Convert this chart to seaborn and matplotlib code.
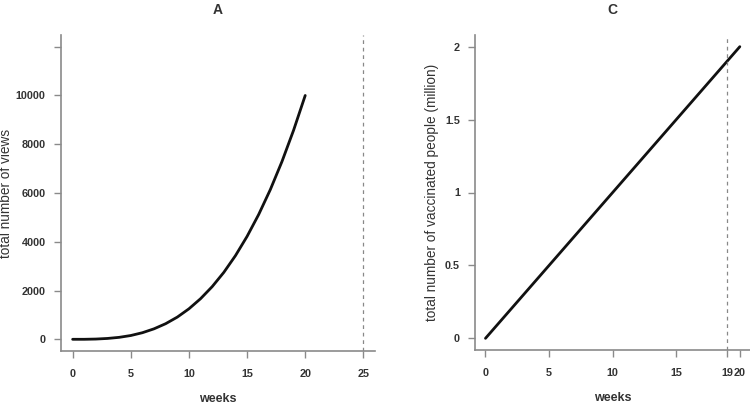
import matplotlib
matplotlib.use("Agg")
import matplotlib.pyplot as plt
import seaborn as sns
import pandas as pd

# ---- data ----
weeks_a = [0, 1, 2, 3, 4, 5, 6, 7, 8, 9, 10, 11, 12, 13, 14, 15, 16, 17, 18, 19, 20]
views_a = [0, 0, 10, 35, 80, 155, 270, 430, 640, 910, 1250, 1665, 2160, 2745,
           3430, 4220, 5120, 6140, 7290, 8575, 10000]
xticks_a = [0, 5, 10, 15, 20, 25]
yticks_a = [0, 2000, 4000, 6000, 8000, 10000, 12000]
yticklabels_a = ["0", "2000", "4000", "6000", "8000", "10000", ""]
vline_a = 25

weeks_c = [0, 5, 10, 15, 20]
vacc_c = [0, 0.5, 1.0, 1.5, 2.0]
xticks_c = [0, 5, 10, 15, 19, 20]
yticks_c = [0, 0.5, 1, 1.5, 2]
yticklabels_c = ["0", "0.5", "1", "1.5", "2"]
vline_c = 19

sns.set_style("ticks")
plt.rcParams["font.family"] = ["Liberation Sans", "DejaVu Sans"]

W, H = 750, 405
fig = plt.figure(figsize=(7.5, 4.05), dpi=100)

def px_axes(x0, y0, x1, y1):
    return fig.add_axes([x0 / W, 1 - y1 / H, (x1 - x0) / W, (y1 - y0) / H])

ax1 = px_axes(61, 35, 375, 351)
ax2 = px_axes(475.3, 35, 750, 350)

dfa = pd.DataFrame({"weeks": weeks_a, "views": views_a})
dfc = pd.DataFrame({"weeks": weeks_c, "vacc": vacc_c})

sns.lineplot(data=dfa, x="weeks", y="views", ax=ax1, color="#111111", lw=2.0)
sns.lineplot(data=dfc, x="weeks", y="vacc", ax=ax2, color="#111111", lw=2.0)

text_col = "#333333"
spine_col = "#8a8a8a"

def style(ax, xlim, ylim, xt, yt, ytl, ylabel, title, vx, ylab_x):
    ax.set_xlim(*xlim)
    ax.set_ylim(*ylim)
    ax.axvline(vx, color="#888888", lw=0.9, ls=(0, (3, 3)))
    ax.set_xticks(xt)
    ax.set_xticklabels([str(v) for v in xt], fontsize=7.8, fontweight="bold", color=text_col)
    ax.set_yticks(yt)
    ax.set_yticklabels(ytl, fontsize=7.8, fontweight="bold", color=text_col)
    ax.tick_params(axis="both", length=5, width=1.0, color=spine_col)
    ax.tick_params(axis="x", pad=8)
    ax.tick_params(axis="y", pad=6)
    for s in ["top", "right"]:
        ax.spines[s].set_visible(False)
    for s in ["left", "bottom"]:
        ax.spines[s].set_color(spine_col)
        ax.spines[s].set_linewidth(1.2)
    ax.set_xlabel("weeks", fontsize=9, fontweight="bold", color=text_col, labelpad=10)
    ax.set_ylabel(ylabel, fontsize=9.8, color=text_col)
    ax.yaxis.set_label_coords(ylab_x, 0.5)
    ax.set_title(title, fontsize=10, fontweight="bold", color=text_col, pad=15)
    ax.set_facecolor("white")

style(ax1, (-1, 26), (-480, 12480), xticks_a, yticks_a, yticklabels_a,
      "total number of views", "A", vline_a, -0.153)
style(ax2, (-0.8, 20.8), (-0.08, 2.08), xticks_c, yticks_c, yticklabels_c,
      "total number of vaccinated people (million)", "C", vline_c, -0.132)

fig.savefig("out.png", dpi=100, facecolor="white")
